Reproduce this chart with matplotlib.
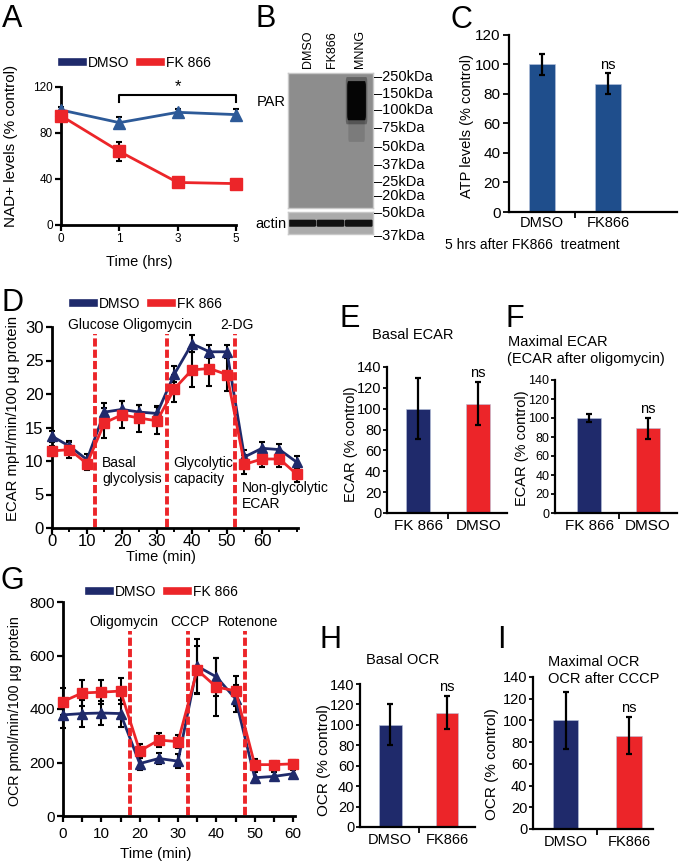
import matplotlib
matplotlib.use("Agg")
import matplotlib.pyplot as plt
from matplotlib.lines import Line2D
from matplotlib.patches import FancyBboxPatch
import numpy as np

plt.rcParams["font.family"] = ["Liberation Sans", "DejaVu Sans"]

W, H = 680, 865

# ── colours ──────────────────────────────────────────────────────────────
C_NAVY = "#1f2a6b"
C_BLUE = "#2d5a98"
C_BAR_C = "#1f4e8c"
C_RED = "#ec2529"

# ── A: NAD+ levels ───────────────────────────────────────────────────────
nad_time_labels = ["0", "1", "3", "5"]
nad_dmso = [100, 89, 98, 96]
nad_dmso_err = [3, 5, 3, 5]
nad_fk = [95, 64, 37, 36]
nad_fk_err = [3, 8, 2, 1]

# ── B: western blot ──────────────────────────────────────────────────────
blot_lanes = ["DMSO", "FK866", "MNNG"]
par_markers = ["250kDa", "150kDa", "100kDa", "75kDa", "50kDa", "37kDa", "25kDa", "20kDa"]
actin_markers = ["50kDa", "37kDa"]

# ── C: ATP levels ────────────────────────────────────────────────────────
atp_groups = ["DMSO", "FK866"]
atp_vals = [100, 87]
atp_err = [7, 7]

# ── D: ECAR trace ────────────────────────────────────────────────────────
ecar_time = [0, 5, 10, 15, 20, 25, 30, 35, 40, 45, 50, 55, 60, 65, 70]
ecar_dmso = [13.7, 12.2, 10.2, 17.3, 17.7, 17.3, 17.1, 23.0, 27.5, 26.3, 26.3, 10.6, 11.9, 11.7, 9.8]
ecar_dmso_err = [0.8, 0.8, 0.8, 1.4, 1.2, 1.1, 1.1, 1.2, 1.3, 1.0, 1.0, 1.0, 0.9, 0.9, 0.9]
ecar_fk = [11.5, 11.7, 9.6, 15.7, 16.9, 16.4, 16.0, 20.8, 23.6, 23.8, 22.9, 9.5, 10.3, 10.3, 8.0]
ecar_fk_err = [0.8, 1.2, 0.9, 2.2, 2.0, 2.0, 2.0, 2.0, 2.6, 2.6, 2.5, 1.4, 1.2, 1.2, 1.2]
ecar_injections = [12.3, 33.0, 52.3]

# ── E / F: ECAR bars ─────────────────────────────────────────────────────
ecar_bar_groups = ["FK 866", "DMSO"]
basal_ecar = [100, 105]
basal_ecar_err = [29, 21]
max_ecar = [100, 89]
max_ecar_err = [4, 11]

# ── G: OCR trace ─────────────────────────────────────────────────────────
ocr_time = [0, 5, 10, 15, 20, 25, 30, 35, 40, 45, 50, 55, 60]
ocr_dmso = [378, 383, 385, 383, 196, 215, 205, 560, 520, 438, 143, 148, 158]
ocr_dmso_err = [50, 50, 45, 50, 25, 20, 25, 100, 70, 50, 20, 15, 15]
ocr_fk = [428, 460, 463, 467, 243, 284, 278, 546, 482, 468, 192, 192, 195]
ocr_fk_err = [50, 50, 45, 50, 25, 25, 25, 90, 110, 55, 20, 15, 15]
ocr_injections = [17.5, 32.6, 47.5]

# ── H / I: OCR bars ──────────────────────────────────────────────────────
ocr_bar_groups = ["DMSO", "FK866"]
basal_ocr = [100, 112]
basal_ocr_err = [20, 16]
max_ocr = [100, 86]
max_ocr_err = [26, 17]

fig = plt.figure(figsize=(W / 100, H / 100), dpi=100)


def px_axes(x0, y0, x1, y1):
    """Axes placed by pixel box (top-left origin)."""
    return fig.add_axes([x0 / W, 1 - y1 / H, (x1 - x0) / W, (y1 - y0) / H])


def ftext(x, y, s, **kw):
    kw.setdefault("ha", "left")
    kw.setdefault("va", "center")
    return fig.text(x / W, 1 - y / H, s, **kw)


def style_axes(ax, fs, lw=1.8):
    for side in ("top", "right"):
        ax.spines[side].set_visible(False)
    for side in ("left", "bottom"):
        ax.spines[side].set_linewidth(lw)
    ax.tick_params(direction="out", width=lw * 0.8, length=4, labelsize=fs, pad=2)
    ax.patch.set_alpha(0)


def unclip(ax):
    for art in list(ax.lines) + list(ax.collections):
        art.set_clip_on(False)


def legend_at(x, y, fs=10):
    handles = [Line2D([], [], color=C_NAVY, lw=5.5),
               Line2D([], [], color=C_RED, lw=5.5)]
    fig.legend(handles, ["DMSO", "FK 866"], loc="center left",
               bbox_to_anchor=(x / W, 1 - y / H), ncol=2, frameon=False,
               fontsize=fs, handlelength=1.5, handletextpad=0.35,
               columnspacing=0.8, borderaxespad=0, borderpad=0)


def panel_letter(x, y, s):
    ftext(x, y, s, fontsize=22, va="top")


def bar_panel(box, labels, vals, errs, xlim, fs, tick_fs=None):
    ax = px_axes(*box)
    x = np.arange(len(vals))
    ax.bar(x, vals, width=0.4, color=[C_NAVY, C_RED], edgecolor="#b8c4dd",
           linewidth=0.4, zorder=2)
    ax.errorbar(x, vals, yerr=errs, fmt="none", ecolor="black",
                elinewidth=1.6, capsize=2.5, capthick=1.6, zorder=3)
    ax.text(x[1], vals[1] + errs[1] + 2, "ns", ha="center", va="bottom",
            fontsize=10.5)
    ax.set_xlim(*xlim)
    ax.set_ylim(0, 140)
    ax.set_yticks(np.arange(0, 141, 20))
    ax.set_xticks(x, labels)
    style_axes(ax, fs, lw=1.6)
    ax.tick_params(axis="y", length=3, pad=1)
    ax.tick_params(axis="x", length=0, pad=4, labelsize=tick_fs or fs)
    ax.set_xticks([0.5], minor=True)
    ax.tick_params(axis="x", which="minor", length=4, width=1.3)
    return ax


# ── Panel A ──────────────────────────────────────────────────────────────
panel_letter(2, 4, "A")
legend_at(62, 63)
axA = px_axes(61, 87, 236, 225)
xa = np.arange(len(nad_time_labels))
axA.errorbar(xa, nad_dmso, yerr=nad_dmso_err, fmt="none", ecolor="black",
             elinewidth=1.5, capsize=2.5, capthick=1.5, zorder=2)
axA.errorbar(xa, nad_fk, yerr=nad_fk_err, fmt="none", ecolor="black",
             elinewidth=1.5, capsize=2.5, capthick=1.5, zorder=2)
axA.plot(xa, nad_dmso, color=C_BLUE, lw=2, marker="^", ms=8, zorder=3)
axA.plot(xa, nad_fk, color=C_RED, lw=2, marker="s", ms=8, zorder=4)
axA.plot([1, 1, 3, 3], [107, 113, 113, 107], color="black", lw=1.5)
axA.text(2, 114, "*", ha="center", va="bottom", fontsize=12)
axA.set_xlim(0, 3)
axA.set_ylim(0, 120)
axA.set_yticks([0, 40, 80, 120])
axA.set_xticks(xa, nad_time_labels)
style_axes(axA, 8.5, lw=2)
unclip(axA)
ftext(11, 146, "NAD+ levels (% control)", rotation=90, ha="center", fontsize=11)
ftext(139, 262, "Time (hrs)", ha="center", fontsize=10.5)

# ── Panel B ──────────────────────────────────────────────────────────────
panel_letter(256, 4, "B")
axB = px_axes(288, 73, 373, 208)
axB.set_facecolor("#8d8d8d")
axB.set_xlim(0, 3)
axB.set_ylim(0, 1)
# PAR smear in the MNNG lane
axB.add_patch(FancyBboxPatch((2.16, 0.52), 0.52, 0.16, boxstyle="round,pad=0.03",
                             facecolor="#5a5a5a", edgecolor="none", alpha=0.35))
axB.add_patch(FancyBboxPatch((2.08, 0.66), 0.68, 0.27, boxstyle="round,pad=0.04",
                             facecolor="black", edgecolor="none", alpha=0.3))
axB.add_patch(FancyBboxPatch((2.13, 0.69), 0.58, 0.21, boxstyle="round,pad=0.04",
                             facecolor="#050505", edgecolor="none"))
axB.set_xticks([])
axB.set_yticks([])
for sp in axB.spines.values():
    sp.set_color("#c8c8c8")
    sp.set_linewidth(1)

axAct = px_axes(288, 212, 373, 234)
axAct.set_facecolor("#ababab")
axAct.set_xlim(0, 3)
axAct.set_ylim(0, 1)
for i in range(len(blot_lanes)):
    axAct.add_patch(FancyBboxPatch((i + 0.06, 0.38), 0.88, 0.22,
                                   boxstyle="round,pad=0.05",
                                   facecolor="#111111", edgecolor="none"))
axAct.set_xticks([])
axAct.set_yticks([])
for sp in axAct.spines.values():
    sp.set_color("#c8c8c8")
    sp.set_linewidth(1)

for lane, xc in zip(blot_lanes, [308, 332, 360]):
    ftext(xc, 68, lane, rotation=90, ha="center", va="bottom", fontsize=9)
ftext(257, 102, "PAR", fontsize=10.5)
ftext(255, 224, "actin", fontsize=10.5)
for mk, yy in zip(par_markers, [77, 94, 110, 128, 147, 165, 182, 196]):
    ftext(374, yy, "\u2012" + mk, fontsize=10.5)
for mk, yy in zip(actin_markers, [213, 236]):
    ftext(374, yy, "\u2012" + mk, fontsize=10.5)

# ── Panel C ──────────────────────────────────────────────────────────────
panel_letter(451, 5, "C")
axC = px_axes(509, 35, 677, 212)
xc = np.arange(len(atp_vals))
axC.bar(xc, atp_vals, width=0.4, color=C_BAR_C, edgecolor="#b8c4dd",
        linewidth=0.4, zorder=2)
axC.errorbar(xc, atp_vals, yerr=atp_err, fmt="none", ecolor="black",
             elinewidth=1.6, capsize=2.5, capthick=1.6, zorder=3)
axC.text(1, atp_vals[1] + atp_err[1] + 1, "ns", ha="center", va="bottom",
         fontsize=10.5)
axC.set_xlim(-0.5, 2.05)
axC.set_ylim(0, 120)
axC.set_yticks(np.arange(0, 121, 20))
axC.set_xticks(xc, atp_groups)
style_axes(axC, 11, lw=1.6)
axC.tick_params(axis="x", length=0, pad=3, labelsize=10.5)
axC.set_xticks([0.5], minor=True)
axC.tick_params(axis="x", which="minor", length=4, width=1.3)
ftext(467, 126, "ATP levels (% control)", rotation=90, ha="center", fontsize=10.5)
ftext(532, 245, "5 hrs after FK866  treatment", ha="center", fontsize=10)

# ── Panel D ──────────────────────────────────────────────────────────────
panel_letter(2, 288, "D")
legend_at(73, 304)
axD = px_axes(52, 327, 298, 528)
axD.errorbar(ecar_time, ecar_dmso, yerr=ecar_dmso_err, fmt="none", ecolor="black",
             elinewidth=1.5, capsize=2.5, capthick=1.5, zorder=2)
axD.errorbar(ecar_time, ecar_fk, yerr=ecar_fk_err, fmt="none", ecolor="black",
             elinewidth=1.5, capsize=2.5, capthick=1.5, zorder=2)
axD.plot(ecar_time, ecar_dmso, color=C_NAVY, lw=2, marker="^", ms=7, zorder=3)
axD.plot(ecar_time, ecar_fk, color=C_RED, lw=2, marker="s", ms=7.5, zorder=4)
for t in ecar_injections:
    axD.plot([t, t], [0.2, 29], color=C_RED, lw=2.8, ls=(0, (2.1, 0.8)), zorder=5)
axD.set_xlim(0, 70.3)
axD.set_ylim(0, 30)
axD.set_yticks(np.arange(0, 31, 5))
axD.set_xticks(np.arange(0, 61, 10))
axD.set_xticks(np.arange(0, 71, 5), minor=True)
style_axes(axD, 12, lw=2)
axD.tick_params(axis="x", which="minor", direction="out", length=3, width=1.4)
axD.tick_params(axis="x", pad=0)
unclip(axD)
ftext(13, 418, "ECAR mpH/min/100 \u00b5g protein", rotation=90, ha="center", fontsize=10.7)
ftext(161, 557, "Time (min)", ha="center", fontsize=10.5)
ftext(68, 325, "Glucose Oligomycin", fontsize=10)
ftext(220, 325, "2-DG", fontsize=10)
ftext(102, 471, "Basal\nglycolysis", fontsize=10, linespacing=1.1)
ftext(173, 471, "Glycolytic\ncapacity", fontsize=10, linespacing=1.1)
ftext(242, 496, "Non-glycolytic\nECAR", fontsize=10, linespacing=1.1)

# ── Panel E ──────────────────────────────────────────────────────────────
panel_letter(339, 304, "E")
ftext(372, 335, "Basal ECAR", fontsize=10.5)
bar_panel((387, 367, 507, 513), ecar_bar_groups, basal_ecar, basal_ecar_err,
          (-0.52, 1.48), 10.5, 11)
ftext(351, 444, "ECAR (% control)", rotation=90, ha="center", fontsize=10.5)

# ── Panel F ──────────────────────────────────────────────────────────────
panel_letter(506, 304, "F")
ftext(508, 342, "Maximal ECAR", fontsize=10.5)
ftext(507, 359, "(ECAR after oligomycin)", fontsize=10.5)
bar_panel((555, 380, 677, 513), ecar_bar_groups, max_ecar, max_ecar_err,
          (-0.58, 1.49), 9, 11)
ftext(522, 448, "ECAR (% control)", rotation=90, ha="center", fontsize=10.5)

# ── Panel G ──────────────────────────────────────────────────────────────
panel_letter(1, 566, "G")
legend_at(89, 592)
axG = px_axes(63, 602, 295, 816)
axG.errorbar(ocr_time, ocr_dmso, yerr=ocr_dmso_err, fmt="none", ecolor="black",
             elinewidth=1.5, capsize=2.5, capthick=1.5, zorder=2)
axG.errorbar(ocr_time, ocr_fk, yerr=ocr_fk_err, fmt="none", ecolor="black",
             elinewidth=1.5, capsize=2.5, capthick=1.5, zorder=2)
axG.plot(ocr_time, ocr_dmso, color=C_NAVY, lw=2, marker="^", ms=7, zorder=3)
axG.plot(ocr_time, ocr_fk, color=C_RED, lw=2, marker="s", ms=7.5, zorder=4)
for t in ocr_injections:
    axG.plot([t, t], [5, 690], color=C_RED, lw=2.8, ls=(0, (2.1, 0.8)), zorder=5)
axG.set_xlim(0, 60.5)
axG.set_ylim(0, 800)
axG.set_yticks(np.arange(0, 801, 200))
axG.set_xticks(np.arange(0, 61, 10))
axG.set_xticks(np.arange(0, 61, 5), minor=True)
style_axes(axG, 11, lw=2)
axG.tick_params(axis="x", which="minor", direction="out", length=4, width=1.6)
axG.tick_params(axis="x", pad=4)
unclip(axG)
ftext(15, 711, "OCR pmol/min/100 \u00b5g protein", rotation=90, ha="center", fontsize=10.3)
ftext(156, 854, "Time (min)", ha="center", fontsize=10.8)
ftext(89, 622, "Oligomycin", fontsize=10)
ftext(170, 622, "CCCP", fontsize=10)
ftext(218, 622, "Rotenone", fontsize=10)

# ── Panel H ──────────────────────────────────────────────────────────────
panel_letter(319, 625, "H")
ftext(366, 660, "Basal OCR", fontsize=10.5)
bar_panel((360, 684, 475, 827), ocr_bar_groups, basal_ocr, basal_ocr_err,
          (-0.53, 1.49), 10.5)
ftext(324, 760, "OCR (% control)", rotation=90, ha="center", fontsize=11)

# ── Panel I ──────────────────────────────────────────────────────────────
panel_letter(497, 625, "I")
ftext(548, 662, "Maximal OCR", fontsize=10.5)
ftext(548, 679, "OCR after CCCP", fontsize=10.5)
bar_panel((533, 677, 653, 829), ocr_bar_groups, max_ocr, max_ocr_err,
          (-0.52, 1.38), 10.5)
ftext(492, 764, "OCR (% control)", rotation=90, ha="center", fontsize=11)

fig.savefig("out.png", dpi=100, facecolor="white")
